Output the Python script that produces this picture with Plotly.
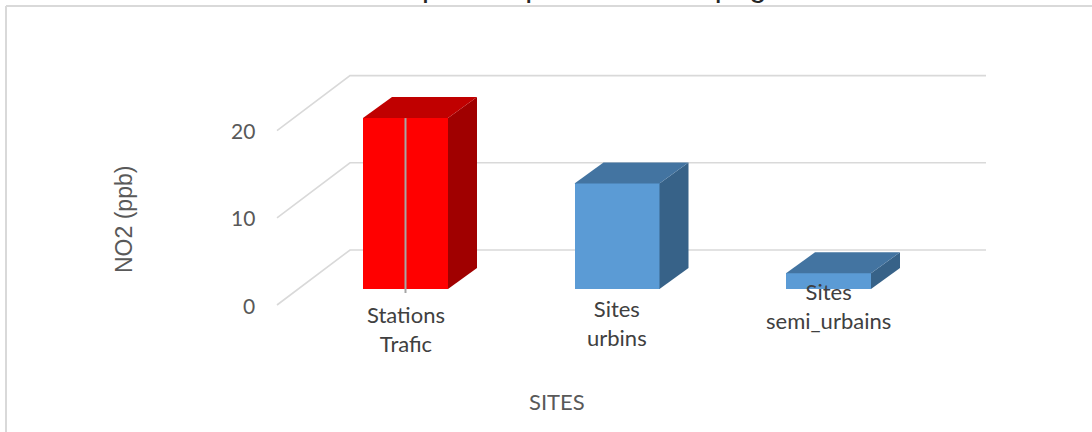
import plotly.graph_objects as go

# ---- data ----
categories = ["Stations<br>Trafic", "Sites<br>urbins", "Sites<br>semi_urbains"]
no2_values = [19.6, 12.1, 1.8]
front_colors = ["#FF0000", "#5B9BD5", "#5B9BD5"]
top_colors = ["#C00000", "#4374A1", "#4374A1"]
side_colors = ["#A00000", "#376288", "#376288"]
y_ticks = [0, 10, 20]
y_tick_labels = ["0", "10", "20"]
title_text = "des sites pour la première campagne"
x_title = "SITES"
y_title = "NO2 (ppb)"

W, H = 1092, 432
# pixel <-> data mapping (oblique 3D projection drawn on a flat plane)
PX0, PXU = 405.5, 211.5   # pixel x of category 0, pixels per category
PY0, PYU = 305.0, 8.72    # pixel y of value 0 (front floor), pixels per unit

def dx(px):
    return (px - PX0) / PXU

def dy(py):
    return (PY0 - py) / PYU

BASE = 16 / PYU           # bar baseline above the front of the floor
HALF_W = 42.5 / PXU
DEPTH_X = 29 / PXU
DEPTH_Y = 21 / PYU
FLOOR_FRONT_X = dx(277)
WALL_LEFT_X = dx(350)
WALL_RIGHT_X = dx(986)
WALL_DY = 55 / PYU

GRID = "#D9D9D9"
TXT = "#595959"
CAL = "Lato, 'Open Sans', sans-serif"
ARIAL = "'Liberation Sans', Arial, sans-serif"

fig = go.Figure()

shapes = []
# gridlines (floor diagonals + back wall), below the bars
for v in y_ticks:
    path = "M {:.5f},{:.5f} L {:.5f},{:.5f} L {:.5f},{:.5f}".format(
        FLOOR_FRONT_X, v, WALL_LEFT_X, v + WALL_DY, WALL_RIGHT_X, v + WALL_DY)
    shapes.append(dict(type="path", path=path, xref="x", yref="y",
                       layer="below", line=dict(color=GRID, width=1.6)))

# side faces
for i, v in enumerate(no2_values):
    x1 = i + HALF_W
    fig.add_trace(go.Scatter(
        x=[x1, x1, x1 + DEPTH_X, x1 + DEPTH_X, x1],
        y=[BASE, BASE + v, BASE + v + DEPTH_Y, BASE + DEPTH_Y, BASE],
        fill="toself", fillcolor=side_colors[i], mode="lines",
        line=dict(width=0, color=side_colors[i]),
        hoverinfo="skip", showlegend=False))

# top faces
for i, v in enumerate(no2_values):
    x0, x1 = i - HALF_W, i + HALF_W
    t = BASE + v
    fig.add_trace(go.Scatter(
        x=[x0, x1, x1 + DEPTH_X, x0 + DEPTH_X, x0],
        y=[t, t, t + DEPTH_Y, t + DEPTH_Y, t],
        fill="toself", fillcolor=top_colors[i], mode="lines",
        line=dict(width=0, color=top_colors[i]),
        hoverinfo="skip", showlegend=False))

# front faces
fig.add_trace(go.Bar(
    x=list(range(len(categories))), y=no2_values, base=BASE,
    width=2 * HALF_W,
    marker=dict(color=front_colors, line=dict(width=0)),
    showlegend=False, hoverinfo="skip"))

# thin gray line through the first bar
fig.add_trace(go.Scatter(
    x=[0, 0], y=[BASE - 4 / PYU, BASE + no2_values[0]],
    mode="lines", line=dict(color="#A6A6A6", width=2),
    hoverinfo="skip", showlegend=False))

ann = []
# y tick labels
for v, lab in zip(y_ticks, y_tick_labels):
    ann.append(dict(x=dx(257), y=v, xref="x", yref="y", text=lab,
                    showarrow=False, xanchor="right", yanchor="middle",
                    font=dict(family=CAL, size=21, color=TXT)))
# category labels
label_centers_py = [328.5, 322.5, 305.5]
for i, lab in enumerate(categories):
    ann.append(dict(x=i, y=dy(label_centers_py[i]), xref="x", yref="y",
                    text=lab, showarrow=False, xanchor="center",
                    yanchor="middle",
                    font=dict(family=CAL, size=22, color="#404040")))
# axis titles
ann.append(dict(x=dx(557), y=dy(401), xref="x", yref="y", text=x_title,
                showarrow=False, xanchor="center", yanchor="middle",
                font=dict(family=CAL, size=22, color=TXT)))
ann.append(dict(x=dx(124), y=dy(220), xref="x", yref="y", text=y_title,
                showarrow=False, textangle=-90, xanchor="center",
                yanchor="middle",
                font=dict(family=ARIAL, size=23, color=TXT)))
# chart title (cut off at the top edge, as in the reference)
ann.append(dict(x=546 / W, y=1 - 4 / H, xref="paper", yref="paper",
                text=title_text, showarrow=False, xanchor="center",
                yanchor="bottom", borderpad=0,
                font=dict(family=ARIAL, size=31, color="#262626")))

shapes += [dict(type="line", xref="paper", yref="paper",
                x0=6 / W, y0=0, x1=6 / W, y1=1 - 6 / H,
                line=dict(color=GRID, width=2)),
           dict(type="line", xref="paper", yref="paper",
                x0=6 / W, y0=1 - 6 / H, x1=1, y1=1 - 6 / H,
                line=dict(color=GRID, width=2))]

fig.update_layout(
    width=W, height=H, margin=dict(l=0, r=0, t=0, b=0),
    paper_bgcolor="white", plot_bgcolor="white",
    xaxis=dict(range=[dx(0), dx(W)], visible=False, fixedrange=True),
    yaxis=dict(range=[dy(H), dy(0)], visible=False, fixedrange=True),
    annotations=ann, shapes=shapes, bargap=0)

fig.write_html("out.html",
               config={"displayModeBar": False, "staticPlot": True},
               post_script="document.body.style.margin='0';"
                           "document.body.style.overflow='hidden';")
